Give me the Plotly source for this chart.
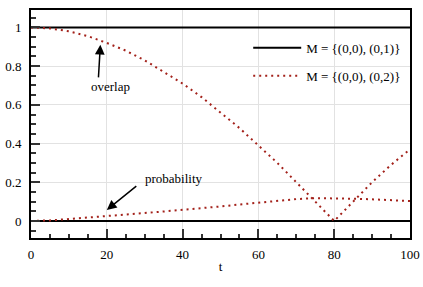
import plotly.graph_objects as go

t = [0, 5, 10, 15, 20, 25, 30, 35, 40, 45, 50, 55, 60, 65, 70, 75, 80, 85, 90, 95, 100]
overlap_m1 = [1.0] * len(t)
prob_m1 = [0.0] * len(t)
overlap_m2 = [1.0, 0.995, 0.98, 0.955, 0.92, 0.88, 0.83, 0.77, 0.71, 0.64, 0.56,
              0.48, 0.39, 0.30, 0.20, 0.10, 0.0, 0.10, 0.20, 0.29, 0.37]
prob_m2 = [0.0, 0.003, 0.01, 0.017, 0.025, 0.033, 0.041, 0.049, 0.057, 0.066, 0.075,
           0.085, 0.095, 0.105, 0.113, 0.118, 0.118, 0.115, 0.112, 0.108, 0.103]

label_m1 = "M = {(0,0), (0,1)}"
label_m2 = "M = {(0,0), (0,2)}"
red = "#a3211a"
font = "Liberation Serif"

fig = go.Figure()
fig.add_trace(go.Scatter(x=t, y=overlap_m1, mode="lines", name=label_m1, legendgroup="a",
                         line=dict(color="black", width=2)))
fig.add_trace(go.Scatter(x=t, y=prob_m1, mode="lines", name=label_m1, legendgroup="a",
                         showlegend=False, line=dict(color="black", width=2)))
fig.add_trace(go.Scatter(x=t, y=overlap_m2, mode="lines", name=label_m2, legendgroup="b",
                         line=dict(color=red, width=2, dash="2px,4px")))
fig.add_trace(go.Scatter(x=t, y=prob_m2, mode="lines", name=label_m2, legendgroup="b",
                         showlegend=False, line=dict(color=red, width=2, dash="2px,4px")))

axis_common = dict(
    showline=True, linewidth=2, linecolor="black", mirror=True,
    ticks="inside", ticklen=9, tickwidth=2, tickcolor="#333",
    showgrid=True, gridcolor="#e2e2e2", gridwidth=1, zeroline=False,
    tickfont=dict(family=font, size=13, color="black"),
    automargin=False,
)

fig.update_xaxes(range=[0, 100], tick0=0, dtick=20, ticklabelstandoff=3,
                 minor=dict(dtick=5, ticks="inside", ticklen=4, tickwidth=1.5,
                            tickcolor="#333", showgrid=False),
                 title=dict(text="t", font=dict(family=font, size=13, color="black"), standoff=1),
                 **axis_common)
fig.update_yaxes(range=[-0.088, 1.09], tick0=0, dtick=0.2, ticklabelstandoff=5,
                 minor=dict(dtick=0.05, ticks="inside", ticklen=5, tickwidth=1.5,
                            tickcolor="#333", showgrid=False),
                 **axis_common)

fig.add_annotation(x=18.3, y=0.91, xref="x", yref="y", text="", showarrow=True,
                   ax=-2, ay=34, arrowhead=2, arrowsize=1.3, arrowwidth=1.5, arrowcolor="black")
fig.add_annotation(x=20.9, y=0.695, xref="x", yref="y", text="overlap", showarrow=False,
                   font=dict(family=font, size=13, color="black"))
fig.add_annotation(x=20.0, y=0.057, xref="x", yref="y", text="", showarrow=True,
                   ax=31, ay=-25, arrowhead=2, arrowsize=1.3, arrowwidth=1.5, arrowcolor="black")
fig.add_annotation(x=37.6, y=0.22, xref="x", yref="y", text="probability", showarrow=False,
                   font=dict(family=font, size=13, color="black"))

fig.update_layout(
    width=423, height=287,
    margin=dict(l=31, r=13, t=10, b=49, autoexpand=False),
    paper_bgcolor="white", plot_bgcolor="white",
    font=dict(family=font, size=13, color="black"),
    legend=dict(x=0.99, y=0.90, xanchor="right", yanchor="top", bgcolor="rgba(0,0,0,0)",
                tracegroupgap=8, font=dict(family=font, size=13, color="black"),
                itemwidth=48),
    showlegend=True,
)

fig.write_html("out.html", config={"displayModeBar": False},
               post_script="document.body.style.margin='0';document.body.style.overflow='hidden';")
